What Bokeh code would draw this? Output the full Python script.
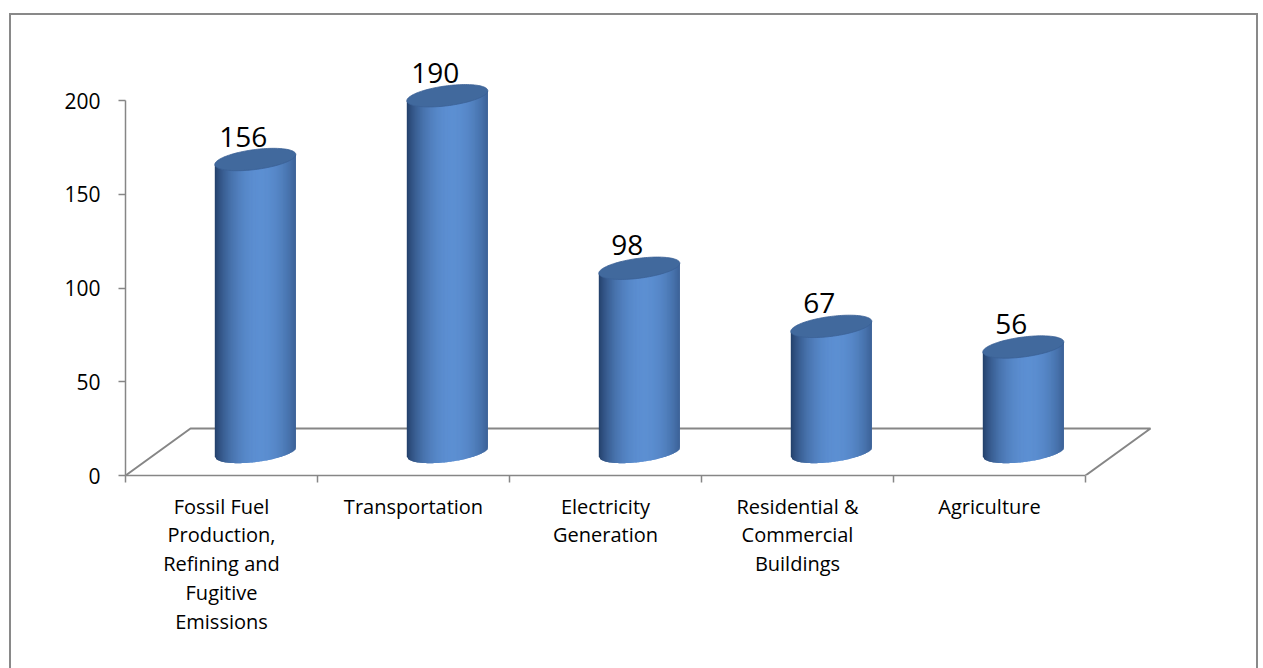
import numpy as np
from bokeh.plotting import figure
from bokeh.models import FixedTicker
from bokeh.core.properties import value
from bokeh.embed import file_html
from bokeh.resources import INLINE

# Emissions by sector
categories = [
    "Fossil Fuel\nProduction,\nRefining and\nFugitive\nEmissions",
    "Transportation",
    "Electricity\nGeneration",
    "Residential &\nCommercial\nBuildings",
    "Agriculture",
]
emissions = [156, 190, 98, 67, 56]
y_ticks = [0, 50, 100, 150, 200]

# ---- page geometry (pixels in the browser window) ----
WIN_W, WIN_H = 1263, 668
BOX_LEFT, BOX_TOP, BOX_RIGHT = 9, 13, 1258   # chart border
BORDER = 2
OX, OY = BOX_LEFT + BORDER, BOX_TOP + BORDER  # canvas origin on the page
W = BOX_RIGHT - BOX_LEFT
H = WIN_H - BOX_TOP

LEFT, BOTTOM = 125 - OX, 475 - OY             # axis origin on the canvas
FRAME_RIGHT, FRAME_TOP = 1205 - OX, 20 - OY
PX_PER_CAT = 192.0
PX_PER_UNIT = 375.0 / 200.0

x_end = (FRAME_RIGHT - LEFT) / PX_PER_CAT
y_end = (BOTTOM - FRAME_TOP) / PX_PER_UNIT

# 3-D floor depth, expressed in data units
DEPTH_X = 65.0 / PX_PER_CAT
DEPTH_Y = 47.0 / PX_PER_UNIT

# cylinder shape in data units
RAD_X = 40.5 / PX_PER_CAT        # horizontal radius
ELL_Y = 10.0 / PX_PER_UNIT       # half height of the end ellipses
TILT_Y = 5.0 / PX_PER_UNIT       # ellipse tilt (right side higher)
BASE_Y = DEPTH_Y * 0.5

line_css = f"{BORDER}px solid #898989"
p = figure(
    width=W, height=H,
    x_range=(0, x_end), y_range=(0, y_end),
    output_backend="svg", toolbar_location=None,
    min_border_left=LEFT, min_border_right=W - FRAME_RIGHT,
    min_border_top=FRAME_TOP, min_border_bottom=H - BOTTOM,
    margin=(BOX_TOP, 0, 0, BOX_LEFT),
    styles={"border-top": line_css, "border-left": line_css,
            "border-right": line_css},
)
p.grid.visible = False
p.outline_line_color = None
p.background_fill_color = "white"
p.border_fill_color = "white"

n = len(categories)
axis_grey = "#868686"

# floor of the 3-D plot area
p.line([0, DEPTH_X, n + DEPTH_X, n], [0, DEPTH_Y, DEPTH_Y, 0],
       line_color=axis_grey, line_width=2)

# cylinders drawn as thin shaded strips plus an elliptical cap
N = 70
u_edges = np.linspace(-1, 1, N + 1)
u_mid = 0.5 * (u_edges[:-1] + u_edges[1:])
f = np.clip(1 - ((u_mid - 0.12) / 1.12) ** 2, 0, 1) ** 0.85
dark = np.array([34, 62, 104])
light = np.array([92, 143, 210])
rgb = dark + f[:, None] * (light - dark)
strip_colors = ["#%02x%02x%02x" % tuple(int(round(v)) for v in c) for c in rgb]

xs, ys, cols = [], [], []
cap_xs, cap_ys = [], []
label_x, label_y, label_txt = [], [], []
overlap = 1.2 / PX_PER_CAT
t = np.linspace(0, 2 * np.pi, 121)
for i, v in enumerate(emissions):
    cx = i + 0.5 + DEPTH_X * 0.52
    top_c = BASE_Y + v
    for j in range(N):
        u0, u1 = u_edges[j], u_edges[j + 1]
        b0 = BASE_Y + TILT_Y * u0 - ELL_Y * np.sqrt(max(0.0, 1 - u0 * u0))
        b1 = BASE_Y + TILT_Y * u1 - ELL_Y * np.sqrt(max(0.0, 1 - u1 * u1))
        x0 = cx + RAD_X * u0
        x1 = cx + RAD_X * u1 + (overlap if j < N - 1 else 0)
        xs.append([x0, x1, x1, x0])
        ys.append([b0, b1, top_c + TILT_Y * u1, top_c + TILT_Y * u0])
        cols.append(strip_colors[j])
    cap_xs.append(list(cx + RAD_X * np.cos(t)))
    cap_ys.append(list(top_c + TILT_Y * np.cos(t) + ELL_Y * np.sin(t)))
    label_x.append(cx)
    label_y.append(top_c)
    label_txt.append(str(v))

p.patches(xs, ys, fill_color=cols, line_color=None)
p.patches(cap_xs, cap_ys, fill_color="#41699D", line_color="#3b6195", line_width=0.8)

p.text(x=label_x, y=label_y, text=label_txt, x_offset=-12, y_offset=-23,
       text_align="center", text_baseline="alphabetic",
       text_font=value("Open Sans"), text_font_size="28px", text_color="#000000")

# y axis
yax = p.yaxis[0]
yax.ticker = FixedTicker(ticks=y_ticks)
yax.bounds = (0, 200)
yax.axis_line_color = axis_grey
yax.axis_line_width = 1.5
yax.major_tick_line_color = axis_grey
yax.major_tick_line_width = 1.5
yax.major_tick_out = 7
yax.major_tick_in = 0
yax.minor_tick_line_color = None
yax.major_label_standoff = 18
yax.major_label_text_font = "Open Sans"
yax.major_label_text_font_size = "21px"
yax.major_label_text_color = "#000000"

# x axis: labels at category centres, tick marks at category boundaries
xax = p.xaxis[0]
centres = [i + 0.5 for i in range(n)]
xax.ticker = FixedTicker(ticks=centres, minor_ticks=list(range(n + 1)))
xax.major_label_overrides = {c: lab for c, lab in zip(centres, categories)}
xax.bounds = (0, n)
xax.axis_line_color = axis_grey
xax.axis_line_width = 1.5
xax.major_tick_line_color = None
xax.major_tick_out = 0
xax.major_tick_in = 0
xax.minor_tick_line_color = axis_grey
xax.minor_tick_line_width = 1.5
xax.minor_tick_out = 7
xax.minor_tick_in = 0
xax.major_label_standoff = 10
xax.major_label_text_font = "Open Sans"
xax.major_label_text_font_size = "20px"
xax.major_label_text_line_height = 1.07
xax.major_label_text_color = "#000000"

open("out.html", "w").write(file_html(p, INLINE))
